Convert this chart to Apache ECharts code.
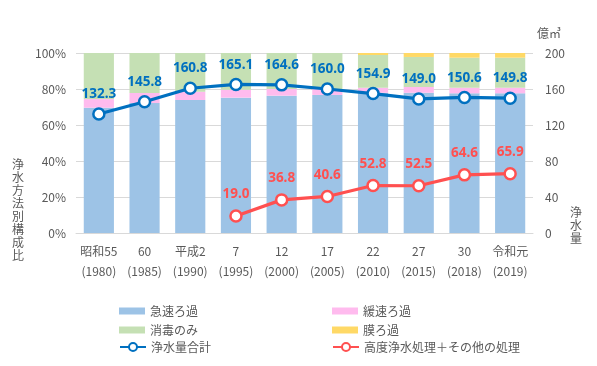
<!DOCTYPE html>
<html><head><meta charset="utf-8">
<script src="https://cdn.jsdelivr.net/npm/echarts@6/dist/echarts.min.js"></script>
<style>html,body{margin:0;padding:0;background:#fff}#c{width:597px;height:366px}</style>
</head><body><div id="c"></div>
<script>
var categories = ['昭和55\n(1980)','60\n(1985)','平成2\n(1990)','7\n(1995)','12\n(2000)','17\n(2005)','22\n(2010)','27\n(2015)','30\n(2018)','令和元\n(2019)'];
var rapid = [69.6, 72.2, 73.9, 75.2, 76.3, 76.7, 77.9, 77.9, 77.6, 77.6];
var slow = [4.8, 5.6, 4.6, 4.4, 3.7, 3.3, 2.8, 3.2, 3.1, 3.1];
var disinfect = [25.6, 22.2, 21.5, 20.4, 20.0, 20.0, 18.2, 16.7, 16.7, 16.7];
var membrane = [0, 0, 0, 0, 0, 0, 1.1, 2.2, 2.6, 2.6];
var totalVolume = [132.3, 145.8, 160.8, 165.1, 164.6, 160.0, 154.9, 149.0, 150.6, 149.8];
var advanced = [null, null, null, 19.0, 36.8, 40.6, 52.8, 52.5, 64.6, 65.9];
var leftTicks = [0, 20, 40, 60, 80, 100];
var rightTicks = [0, 40, 80, 120, 160, 200];

var FONT = '"Noto Sans CJK JP", "Noto Sans", sans-serif';
var NUMFONT = '"Noto Sans", sans-serif';
var chart = echarts.init(document.getElementById('c'));
function barLegend(name, left, top){
  return {data:[{name:name, icon:'rect'}], left:left, top:top, itemWidth:26, itemHeight:7,
    textStyle:{color:'#595959', fontSize:12, fontFamily:FONT}, itemGap:0, padding:0};
}
function lineLegend(name, left, top){
  return {data:[{name:name}], left:left, top:top, itemWidth:26, itemHeight:10,
    textStyle:{color:'#595959', fontSize:12, fontFamily:FONT}, padding:0};
}
chart.setOption({
  animation:false,
  textStyle:{fontFamily:FONT},
  grid:{left:76, right:64, top:53, bottom:133, outerBoundsMode:'none', containLabel:false},
  legend:[
    barLegend('急速ろ過', 119, 305),
    barLegend('緩速ろ過', 332, 305),
    barLegend('消毒のみ', 119, 324),
    barLegend('膜ろ過', 332, 324),
    lineLegend('浄水量合計', 119, 341),
    lineLegend('高度浄水処理＋その他の処理', 332, 341)
  ],
  xAxis:{type:'category', data:categories,
    axisLine:{lineStyle:{color:'#d9d9d9'}}, axisTick:{show:false},
    axisLabel:{color:'#595959', fontSize:12, lineHeight:20, margin:8, interval:0}},
  yAxis:[
    {type:'value', min:0, max:100, interval:20,
     axisLabel:{formatter:'{value}%', color:'#595959', fontSize:12, margin:10},
     splitLine:{lineStyle:{color:'#d9d9d9'}}, axisLine:{show:false}, axisTick:{show:false}},
    {type:'value', min:0, max:200, interval:40,
     axisLabel:{color:'#595959', fontSize:12, margin:12},
     splitLine:{show:false}, axisLine:{show:false}, axisTick:{show:false},
     name:'億㎥', nameLocation:'end', nameGap:14,
     nameTextStyle:{color:'#595959', fontSize:12, align:'left', padding:[0,0,0,4]}}
  ],
  graphic:[
    {type:'text', left:570, top:206, style:{text:'浄\n水\n量', fill:'#595959', font:'12px '+FONT, lineHeight:13}},
    {type:'text', left:12, top:158, style:{text:'浄\n水\n方\n法\n別\n構\n成\n比', fill:'#595959', font:'12px '+FONT, lineHeight:13}}
  ],
  series:[
    {name:'急速ろ過', type:'bar', stack:'a', data:rapid, barWidth:'66%', itemStyle:{color:'#9DC3E6'}},
    {name:'緩速ろ過', type:'bar', stack:'a', data:slow, itemStyle:{color:'#FFBBEE'}},
    {name:'消毒のみ', type:'bar', stack:'a', data:disinfect, itemStyle:{color:'#C5E0B4'}},
    {name:'膜ろ過', type:'bar', stack:'a', data:membrane, itemStyle:{color:'#FFD966'}},
    {name:'浄水量合計', type:'line', yAxisIndex:1, data:totalVolume,
     symbol:'circle', symbolSize:11, lineStyle:{color:'#0070C0', width:3.2},
     itemStyle:{color:'#fff', borderColor:'#0070C0', borderWidth:2.5},
     label:{show:true, position:'top', distance:6, color:'#0070C0', fontSize:13.5, fontFamily:NUMFONT, fontWeight:'bold', formatter:function(p){return p.value.toFixed(1);}}},
    {name:'高度浄水処理＋その他の処理', type:'line', yAxisIndex:1, data:advanced,
     symbol:'circle', symbolSize:11, lineStyle:{color:'#FF5050', width:3.2},
     itemStyle:{color:'#fff', borderColor:'#FF5050', borderWidth:2.5},
     label:{show:true, position:'top', distance:8, color:'#FF5050', fontSize:13.5, fontFamily:NUMFONT, fontWeight:'bold', formatter:function(p){return p.value==null?'':p.value.toFixed(1);}}}
  ]
});
</script></body></html>
